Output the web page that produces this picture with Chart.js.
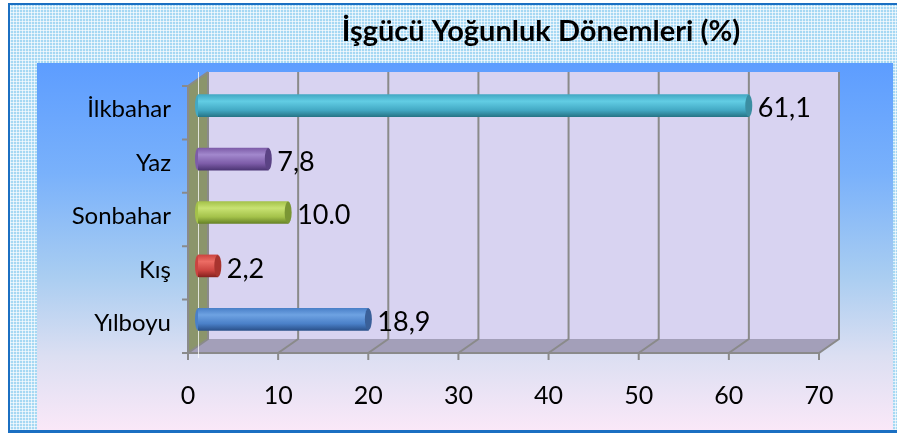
<!DOCTYPE html>
<html>
<head>
<meta charset="utf-8">
<script src="https://cdn.jsdelivr.net/npm/chart.js@4"></script>
<style>
  body { margin: 0; background: #fff; }
  #frame {
    position: absolute; left: 8px; top: 3px; width: 889px; height: 430px;
    box-sizing: border-box;
    border-top: 2px solid #1b6fc2; border-left: 2px solid #1b6fc2; border-bottom: 3px solid #1b6fc2;
    background-color: #a6d8f3;
    background-image:
      repeating-linear-gradient(0deg, rgba(255,255,255,0.65) 0 1px, transparent 1px 3px),
      repeating-linear-gradient(90deg, rgba(255,255,255,0.65) 0 1px, transparent 1px 3px);
  }
  #panel {
    position: absolute; left: 37px; top: 63px; width: 856px; height: 367px;
    background: linear-gradient(180deg, #5d9dff 0%, #79b1fb 30%, #a9cdf1 58%, #dcdff2 80%, #fae8f8 100%);
  }
  #chart { position: absolute; left: 0; top: 0; }
</style>
</head>
<body>
<div id="frame"></div>
<div id="panel"></div>
<canvas id="chart" width="897" height="433"></canvas>
<script>
// Data
const chartTitle = 'İşgücü Yoğunluk Dönemleri (%)';
const periods = ['İlkbahar', 'Yaz', 'Sonbahar', 'Kış', 'Yılboyu'];
const shares = [61.1, 7.8, 10.0, 2.2, 18.9];
const shareLabels = ['61,1', '7,8', '10.0', '2,2', '18,9'];
const xTicks = [0, 10, 20, 30, 40, 50, 60, 70];

// cylinder colours: [light, mid, dark, cap]
const barColors = [
    ['#62cde4', '#43a9c4', '#277688', '#3b8ea2'],
    ['#a288cd', '#7d5ca8', '#4d3675', '#5b4385'],
    ['#c8e272', '#a4c24a', '#678326', '#7a9634'],
    ['#ec6c64', '#cc4440', '#86221f', '#a8342f'],
    ['#6ea2e2', '#4a80c8', '#2b528c', '#3a6099']
];

const DX = 10, DY = 7;   // half of the 3D depth offset
const BAR_H = 22;

function cylinderFill(c) {
    const chart = c.chart;
    const col = barColors[c.dataIndex];
    if (!chart.chartArea || !chart.scales.y) return col[1];
    const yc = chart.scales.y.getPixelForValue(c.dataIndex);
    const g = chart.ctx.createLinearGradient(0, yc - BAR_H / 2, 0, yc + BAR_H / 2);
    g.addColorStop(0, col[1]);
    g.addColorStop(0.3, col[0]);
    g.addColorStop(0.7, col[1]);
    g.addColorStop(1, col[2]);
    return g;
}

// 3D walls, floor and grid
const frame3d = {
    id: 'frame3d',
    beforeDatasetsDraw(chart) {
        const ctx = chart.ctx, x = chart.scales.x, a = chart.chartArea;
        const x0 = x.getPixelForValue(0), x1 = x.getPixelForValue(70);
        const top = a.top, bot = a.bottom;
        ctx.save();
        // back wall
        ctx.fillStyle = '#d8d3f1';
        ctx.fillRect(x0 + DX, top - DY, x1 - x0, bot - top);
        // left wall
        ctx.fillStyle = '#8b956b';
        ctx.beginPath();
        ctx.moveTo(x0 - DX, top + DY); ctx.lineTo(x0 + DX, top - DY);
        ctx.lineTo(x0 + DX, bot - DY); ctx.lineTo(x0 - DX, bot + DY);
        ctx.closePath(); ctx.fill();
        // floor
        ctx.fillStyle = '#a39fb9';
        ctx.beginPath();
        ctx.moveTo(x0 - DX, bot + DY); ctx.lineTo(x0 + DX, bot - DY);
        ctx.lineTo(x1 + DX, bot - DY); ctx.lineTo(x1 - DX, bot + DY);
        ctx.closePath(); ctx.fill();

        ctx.strokeStyle = '#8a8a8a';
        ctx.lineWidth = 2;
        ctx.beginPath();
        xTicks.forEach(v => {
            const px = x.getPixelForValue(v);
            ctx.moveTo(px + DX, top - DY); ctx.lineTo(px + DX, bot - DY);
            ctx.lineTo(px - DX, bot + DY); ctx.lineTo(px - DX, bot + DY + 7);
        });
        // left wall top edge and front axis
        ctx.moveTo(x0 - DX, top + DY); ctx.lineTo(x0 + DX, top - DY);
        ctx.moveTo(x0 - DX, top + DY); ctx.lineTo(x0 - DX, bot + DY);
        ctx.moveTo(x0 - DX - 6, bot + DY); ctx.lineTo(x1 - DX, bot + DY);
        ctx.lineTo(x1 + DX, bot - DY);
        const band = (bot - top) / periods.length;
        for (let i = 0; i < periods.length; i++) {
            const py = top + DY + i * band;
            ctx.moveTo(x0 - DX - 6, py); ctx.lineTo(x0 - DX, py);
        }
        ctx.stroke();
        // faint line at zero
        ctx.strokeStyle = 'rgba(255,255,255,0.75)';
        ctx.lineWidth = 1;
        ctx.beginPath();
        ctx.moveTo(x0 + 0.5, top - DY); ctx.lineTo(x0 + 0.5, bot + DY + 5);
        ctx.stroke();
        ctx.restore();
    },
    afterDatasetsDraw(chart) {
        const ctx = chart.ctx;
        const meta = chart.getDatasetMeta(0);
        ctx.save();
        meta.data.forEach((bar, i) => {
            const col = barColors[i];
            const ry = bar.height / 2;
            // rounded left end
            ctx.fillStyle = col[1];
            ctx.beginPath();
            ctx.ellipse(bar.base, bar.y, 3, ry, 0, Math.PI / 2, Math.PI * 1.5);
            ctx.fill();
            // end cap
            ctx.fillStyle = col[3];
            ctx.beginPath();
            ctx.ellipse(bar.x, bar.y, 3.5, ry, 0, 0, Math.PI * 2);
            ctx.fill();
            // value label
            ctx.fillStyle = '#000';
            ctx.font = '27px Lato';
            ctx.textAlign = 'left';
            ctx.textBaseline = 'middle';
            ctx.fillText(shareLabels[i], bar.x + 9, bar.y + 3);
        });
        ctx.restore();
    },
    afterDraw(chart) {
        const ctx = chart.ctx;
        ctx.save();
        ctx.fillStyle = '#000';
        ctx.font = 'bold 29px Lato';
        ctx.textAlign = 'center';
        ctx.textBaseline = 'middle';
        ctx.fillText(chartTitle, 541, 32);
        ctx.restore();
    }
};

new Chart(document.getElementById('chart'), {
    type: 'bar',
    data: {
        labels: periods,
        datasets: [{
            data: shares,
            backgroundColor: cylinderFill,
            borderWidth: 0,
            barThickness: BAR_H
        }]
    },
    options: {
        indexAxis: 'y',
        responsive: false,
        animation: false,
        layout: { padding: { top: 79, right: 68, bottom: 0, left: 0 } },
        plugins: {
            legend: { display: false },
            tooltip: { enabled: false },
            title: { display: false }
        },
        scales: {
            x: {
                min: 0,
                max: 70,
                afterFit: s => { s.height = 87; },
                grid: { display: false, drawTicks: false },
                border: { display: false },
                ticks: {
                    stepSize: 10,
                    labelOffset: -DX,
                    padding: 35,
                    color: '#000',
                    font: { family: 'Lato', size: 25 }
                }
            },
            y: {
                afterFit: s => { s.width = 198; },
                grid: { display: false, drawTicks: false },
                border: { display: false },
                ticks: {
                    padding: 27,
                    labelOffset: 4,
                    color: '#000',
                    font: { family: 'Lato', size: 24 }
                }
            }
        }
    },
    plugins: [frame3d]
});
</script>
</body>
</html>
